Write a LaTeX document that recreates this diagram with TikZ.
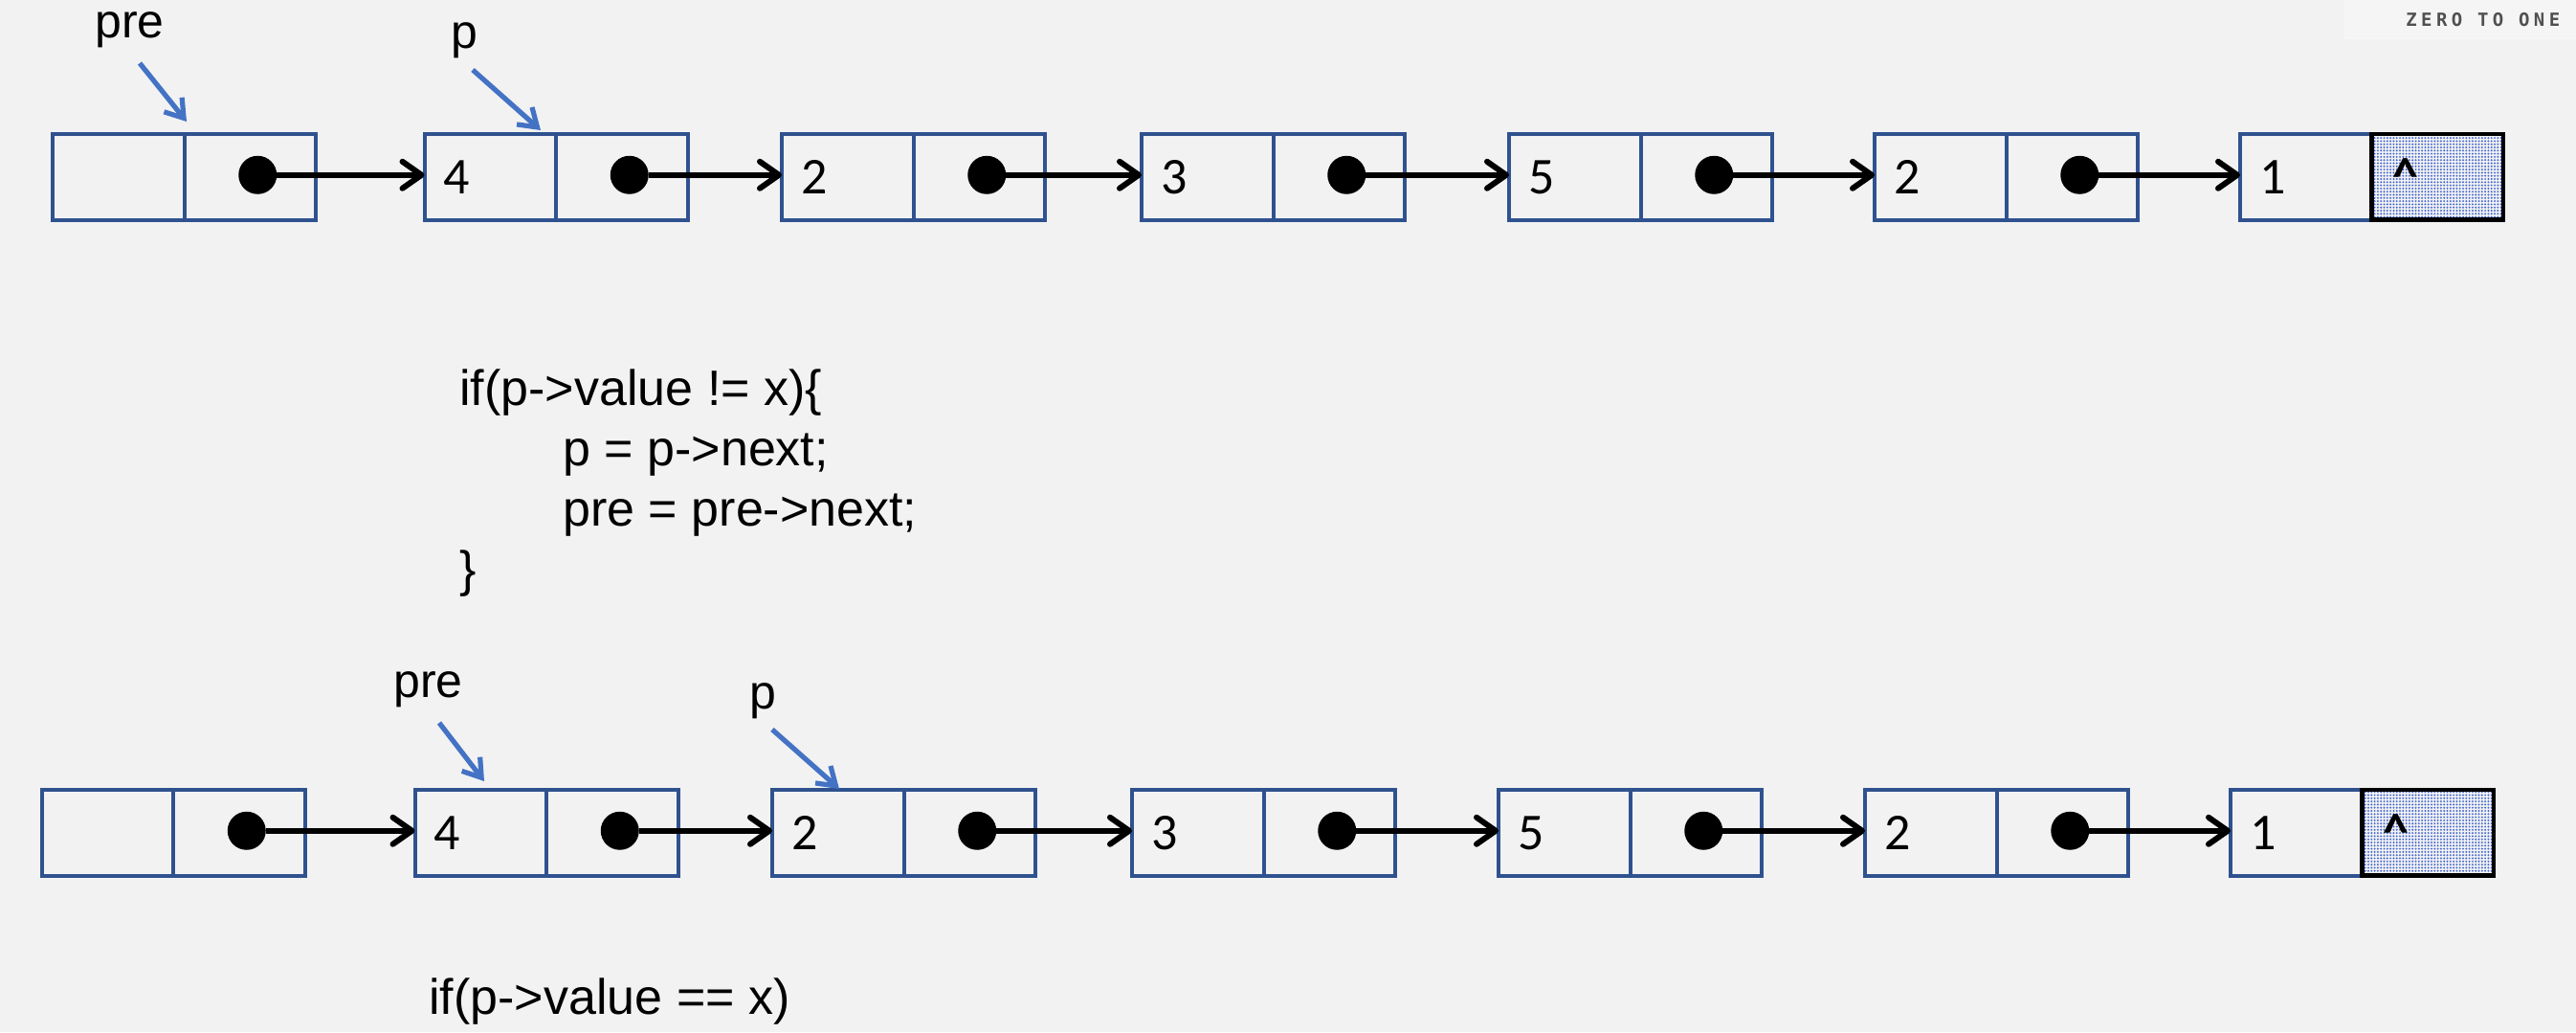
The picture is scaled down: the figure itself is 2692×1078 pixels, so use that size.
\documentclass[tikz,border=0pt]{standalone}
\usepackage{fontspec}
\setmainfont{Liberation Sans}
\newfontfamily\numfont{Carlito}
\newfontfamily\logofont[LetterSpace=23]{DejaVu Sans Mono}
\usetikzlibrary{arrows.meta,calc,patterns.meta}
\definecolor{bg}{HTML}{F2F2F2}
\definecolor{boxblue}{HTML}{2F528F}
\definecolor{ptrblue}{HTML}{4472C4}
\definecolor{dotblue}{HTML}{4468D0}
\definecolor{logogray}{HTML}{505050}
\begin{document}
\begin{tikzpicture}[x=0.5pt,y=-0.5pt,
  cell/.style={draw=boxblue, line width=2pt, minimum width=68.75pt, minimum height=44.75pt, inner sep=0pt, outer sep=0pt, anchor=north west},
  nullcell/.style={draw=black, line width=2.2pt, minimum width=68.75pt, minimum height=44.75pt, inner sep=0pt, outer sep=0pt, anchor=north west,
    preaction={fill=bg}, pattern={Dots[distance=1.65pt, radius=0.55pt]}, pattern color=dotblue},
  num/.style={font=\numfont\fontsize{27pt}{30pt}\selectfont, inner sep=0pt, anchor=base west},
  caret/.style={font=\numfont\bfseries\fontsize{27pt}{30pt}\selectfont, inner sep=0pt, anchor=base},
  dotn/.style={circle, fill=black, minimum size=20pt, inner sep=0pt, outer sep=0pt},
  link/.style={line width=3pt, -{Straight Barb[length=10pt, width=14pt, round]}},
  pointer/.style={ptrblue, line width=2.6pt, -{Straight Barb[length=9pt, width=12pt]}},
  lbl/.style={font=\fontsize{25pt}{30pt}\selectfont, inner sep=0pt, anchor=base west},
  code/.style={font=\fontsize{26pt}{31pt}\selectfont, inner sep=0pt, anchor=base west}
]
\path[fill=bg] (0,0) rectangle (2692,1078);
\useasboundingbox (0,0) rectangle (2692,1078);

% logo
\path[fill=white!20!bg, draw=white!40!bg, line width=0.5pt] (2450,-2) rectangle (2700,40);
\node[inner sep=0pt, anchor=base west, text=logogray, font=\logofont\bfseries\fontsize{9.5pt}{10pt}\selectfont] (logo) at (2514,27) {ZERO TO ONE};

% ---------- top row ----------
\foreach \i/\x/\v in {1/55/,2/443.5/4,3/817/2,4/1193/3,5/1577/5,6/1959/2}{
  \node[cell] (Ad\i) at (\x,140) {};
  \node[cell] (An\i) at (\x+137.5,140) {};
  \node[num] (Av\i) at ($(Ad\i.north west)+(20,62)$) {\v};
  \node[dotn] (Ap\i) at ($(An\i.center)+(8,-2)$) {};
}
\node[cell] (Ad7) at (2341,140) {};
\node[nullcell] (An7) at (2478.5,140) {};
\node[num] (Av7) at ($(Ad7.north west)+(20,62)$) {1};
\node[caret] (Ac7) at ($(An7.north west)+(35,62)$) {\textasciicircum};
\foreach \i in {1,...,6}{
  \pgfmathtruncatemacro{\j}{\i+1}
  \draw[link] (Ap\i.east) -- (Ap\i.east -| Ad\j.west);
}

% pointers top
\node[lbl] (preA) at (99,39) {pre};
\node[lbl] (pA) at (471,50) {p};
\coordinate (preAs) at (146,66);
\coordinate (preAe) at (195,127);
\coordinate (pAs) at (494,73);
\coordinate (pAe) at (565,136);
\draw[pointer] (preAs) -- (preAe);
\draw[pointer] (pAs) -- (pAe);

% code
\node[code] (c1) at (480,423) {if(p->value != x)\{};
\node[code] (c2) at (588,486) {p = p->next;};
\node[code] (c3) at (588,549) {pre = pre->next;};
\node[code] (c4) at (480,612) {\}};

% ---------- bottom row ----------
\foreach \i/\x/\v in {1/43.5/,2/433.5/4,3/807/2,4/1183/3,5/1566/5,6/1949/2}{
  \node[cell] (Bd\i) at (\x,825) {};
  \node[cell] (Bn\i) at (\x+137.5,825) {};
  \node[num] (Bv\i) at ($(Bd\i.north west)+(20,62)$) {\v};
  \node[dotn] (Bp\i) at ($(Bn\i.center)+(8,-2)$) {};
}
\node[cell] (Bd7) at (2331,825) {};
\node[nullcell] (Bn7) at (2468.5,825) {};
\node[num] (Bv7) at ($(Bd7.north west)+(20,62)$) {1};
\node[caret] (Bc7) at ($(Bn7.north west)+(35,62)$) {\textasciicircum};
\foreach \i in {1,...,6}{
  \pgfmathtruncatemacro{\j}{\i+1}
  \draw[link] (Bp\i.east) -- (Bp\i.east -| Bd\j.west);
}

% pointers bottom
\node[lbl] (preB) at (411,728) {pre};
\node[lbl] (pB) at (783,740) {p};
\coordinate (preBs) at (459,755);
\coordinate (preBe) at (506,816);
\coordinate (pBs) at (807,762);
\coordinate (pBe) at (877,824);
\draw[pointer] (preBs) -- (preBe);
\draw[pointer] (pBs) -- (pBe);

\node[code] (c5) at (448,1059) {if(p->value == x)};
\end{tikzpicture}
\end{document}
